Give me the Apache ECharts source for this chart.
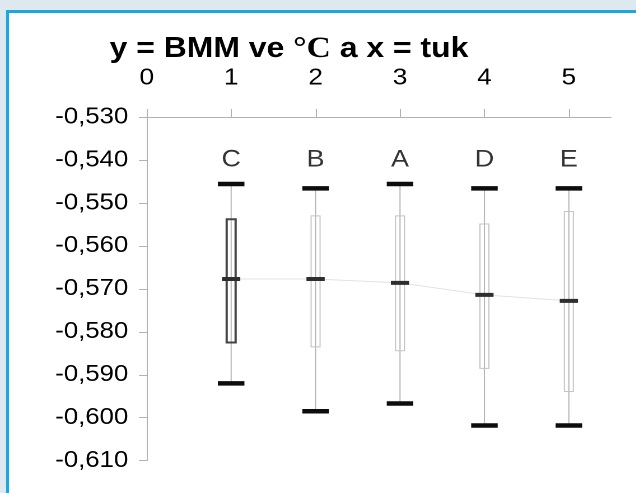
<!DOCTYPE html>
<html>
<head>
<meta charset="utf-8">
<script src="https://cdn.jsdelivr.net/npm/echarts@6/dist/echarts.min.js"></script>
<style>
  html, body { margin: 0; padding: 0; width: 636px; height: 493px; overflow: hidden; background: #dde8ef; }
  #frame { position: absolute; left: 6px; top: 10px; width: 660px; height: 520px;
           border-left: 3px solid #1ba7e1; border-top: 3px solid #1ba7e1; background: #fff; }
  /* the chart is laid out narrower and widened to the full frame */
  #chart { position: absolute; left: 0; top: 0; width: 568px; height: 493px;
           transform: scaleX(1.12); transform-origin: 0 0; }
</style>
</head>
<body>
<div id="frame"></div>
<div id="chart"></div>
<script>
// Groups and their position on the x scale
const categories = ['C', 'B', 'A', 'D', 'E'];
const xPos = [1, 2, 3, 4, 5];

// Box-and-whisker statistics per group (BMM in °C)
const whiskerHigh = [-0.5456, -0.5466, -0.5456, -0.5466, -0.5466];
const boxTop      = [-0.5538, -0.5530, -0.5530, -0.5549, -0.5520];
const median      = [-0.5677, -0.5677, -0.5686, -0.5714, -0.5728];
const boxBottom   = [-0.5825, -0.5835, -0.5844, -0.5885, -0.5939];
const whiskerLow  = [-0.5920, -0.5985, -0.5967, -0.6018, -0.6018];

// Axis ticks
const xTicks = [0, 1, 2, 3, 4, 5];
const yMin = -0.61, yMax = -0.53, yStep = 0.01;

// Group drawn with an emphasised box
const emphasised = 'C';
// Height (value) at which group names are printed
const nameLevel = -0.540;

const boxData = xPos.map((x, i) => [x, whiskerHigh[i], boxTop[i], median[i], boxBottom[i], whiskerLow[i], categories[i]]);
const medianLine = xPos.map((x, i) => [x, median[i]]);
const nameData = xPos.map((x, i) => [x, nameLevel, categories[i]]);

const axisGrey = '#b2b2b2';
const sans = 'Liberation Sans, Arial, sans-serif';

const chart = echarts.init(document.getElementById('chart'), null, { renderer: 'canvas', devicePixelRatio: 2 });

chart.setOption({
  animation: false,
  backgroundColor: 'transparent',
  title: {
    text: '{a|y = BMM ve }{b|°C}{a| a x = tuk}',
    left: 253,
    top: 29,
    textAlign: 'center',
    textStyle: {
      rich: {
        a: { fontFamily: sans, fontWeight: 'bold', fontSize: 28.5, color: '#000' },
        b: { fontFamily: 'Liberation Serif, Times New Roman, serif', fontWeight: 'bold', fontSize: 30, color: '#000' }
      }
    }
  },
  grid: { left: 131, top: 117, width: 414.6, height: 343.7, outerBoundsMode: 'none' },
  xAxis: {
    type: 'value',
    position: 'top',
    min: 0,
    max: 5.5,
    interval: 1,
    axisLine: { show: true, onZero: false, lineStyle: { color: axisGrey, width: 1 } },
    axisTick: { show: true, length: 8, customValues: xTicks, lineStyle: { color: axisGrey, width: 1 } },
    axisLabel: { customValues: xTicks, fontSize: 23.5, fontFamily: sans, color: '#000', margin: 27 },
    splitLine: { show: false }
  },
  yAxis: {
    type: 'value',
    min: yMin,
    max: yMax,
    interval: yStep,
    axisLine: { show: true, onZero: false, lineStyle: { color: axisGrey, width: 1 } },
    axisTick: { show: true, length: 6.9, lineStyle: { color: axisGrey, width: 1 } },
    axisLabel: {
      fontSize: 23, fontFamily: sans, color: '#000', margin: 16.5,
      formatter: v => v.toFixed(3).replace('.', ',')
    },
    splitLine: { show: false }
  },
  series: [
    {
      type: 'line',
      data: medianLine,
      symbol: 'none',
      silent: true,
      z: 1,
      lineStyle: { color: '#e2e2e2', width: 1 }
    },
    {
      type: 'custom',
      data: boxData,
      z: 2,
      encode: { x: 0, y: [1, 2, 3, 4, 5] },
      renderItem(params, api) {
        const x = api.value(0);
        const hi = api.coord([x, api.value(1)]);
        const q3 = api.coord([x, api.value(2)]);
        const md = api.coord([x, api.value(3)]);
        const q1 = api.coord([x, api.value(4)]);
        const lo = api.coord([x, api.value(5)]);
        const cx = hi[0];
        const strong = categories[params.dataIndex] === emphasised;
        const boxW = 8, capW = 23.7, capH = 4.5, medW = 16.3, medH = 4;
        return {
          type: 'group',
          children: [
            { type: 'line', shape: { x1: cx, y1: hi[1], x2: cx, y2: lo[1] },
              style: { stroke: '#b4b4b4', lineWidth: 1 } },
            { type: 'rect', shape: { x: cx - boxW / 2, y: q3[1], width: boxW, height: q1[1] - q3[1] },
              style: { fill: 'none', stroke: strong ? '#444' : '#c4c4c4', lineWidth: strong ? 2 : 1 } },
            { type: 'rect', shape: { x: cx - capW / 2, y: hi[1] - capH / 2, width: capW, height: capH },
              style: { fill: '#0d0d0d' } },
            { type: 'rect', shape: { x: cx - capW / 2, y: lo[1] - capH / 2, width: capW, height: capH },
              style: { fill: '#0d0d0d' } },
            { type: 'rect', shape: { x: cx - medW / 2, y: md[1] - medH / 2, width: medW, height: medH },
              style: { fill: '#2e2e2e' } }
          ]
        };
      }
    },
    {
      type: 'scatter',
      data: nameData,
      symbolSize: 0,
      silent: true,
      z: 3,
      label: {
        show: true,
        position: 'inside',
        formatter: p => p.data[2],
        fontSize: 24,
        fontFamily: sans,
        color: '#000'
      }
    }
  ]
});
</script>
</body>
</html>
